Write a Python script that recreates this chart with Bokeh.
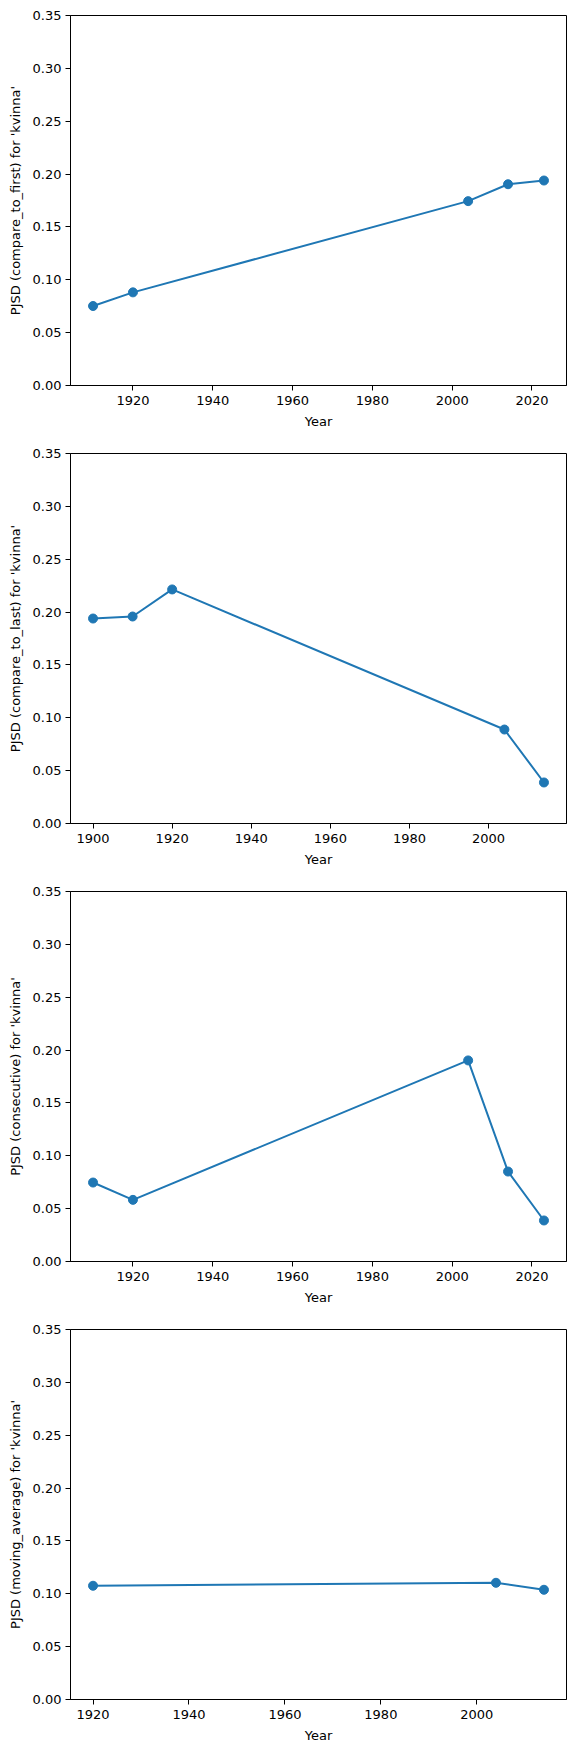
from bokeh.plotting import figure
from bokeh.layouts import column
from bokeh.models import FixedTicker, NumeralTickFormatter, Range1d
from bokeh.embed import file_html
from bokeh.resources import INLINE

# ---- data ----
years_first = [1910, 1920, 2004, 2014, 2023]
pjsd_first = [0.0752, 0.0881, 0.1744, 0.1904, 0.1939]

years_last = [1900, 1910, 1920, 2004, 2014]
pjsd_last = [0.1939, 0.1958, 0.2214, 0.0889, 0.0388]

years_consec = [1910, 1920, 2004, 2014, 2023]
pjsd_consec = [0.0747, 0.0583, 0.1902, 0.0851, 0.0388]

years_mavg = [1920, 2004, 2014]
pjsd_mavg = [0.1076, 0.1104, 0.1038]

methods = ["compare_to_first", "compare_to_last", "consecutive", "moving_average"]
word = "kvinna"
y_ticks = [0.0, 0.05, 0.10, 0.15, 0.20, 0.25, 0.30, 0.35]

series = [
    (years_first, pjsd_first, [1920, 1940, 1960, 1980, 2000, 2020]),
    (years_last, pjsd_last, [1900, 1920, 1940, 1960, 1980, 2000]),
    (years_consec, pjsd_consec, [1920, 1940, 1960, 1980, 2000, 2020]),
    (years_mavg, pjsd_mavg, [1920, 1940, 1960, 1980, 2000]),
]

BLUE = "#1f77b4"
FONT = "DejaVu Sans"

figs = []
for i, ((xs, ys, xt), method) in enumerate(zip(series, methods)):
    lo, hi = min(xs), max(xs)
    pad = (hi - lo) * 0.05
    p = figure(
        width=576,
        height=438,
        x_range=Range1d(lo - pad, hi + pad),
        y_range=Range1d(0, 0.35),
        output_backend="svg",
        toolbar_location=None,
        title=None,
        min_border_left=70,
        min_border_right=10,
        min_border_top=15,
        min_border_bottom=53,
    )
    p.line(xs, ys, line_color=BLUE, line_width=2)
    p.scatter(xs, ys, size=9, fill_color=BLUE, line_color=BLUE)

    p.xgrid.visible = False
    p.ygrid.visible = False
    p.outline_line_color = "black"
    p.outline_line_width = 1
    p.outline_line_alpha = 1

    p.xaxis.ticker = FixedTicker(ticks=xt)
    p.yaxis.ticker = FixedTicker(ticks=y_ticks)
    p.yaxis.formatter = NumeralTickFormatter(format="0.00")
    p.xaxis.axis_label = "Year"
    p.yaxis.axis_label = f"PJSD ({method}) for '{word}'"

    for ax in (p.xaxis, p.yaxis):
        ax.axis_line_color = "black"
        ax.axis_line_width = 1
        ax.major_tick_line_color = "black"
        ax.major_tick_line_width = 1
        ax.major_tick_in = 0
        ax.major_tick_out = 5
        ax.minor_tick_line_color = None
        ax.major_label_text_font = FONT
        ax.major_label_text_font_size = "13px"
        ax.major_label_text_color = "black"
        ax.axis_label_text_font = FONT
        ax.axis_label_text_font_size = "13px"
        ax.axis_label_text_font_style = "normal"
        ax.axis_label_text_color = "black"
        ax.major_label_standoff = 4
    p.xaxis.major_label_standoff = 5
    p.yaxis.axis_label_standoff = 7
    p.xaxis.axis_label_standoff = 6
    figs.append(p)

layout = column(*figs, spacing=0)
open("out.html", "w").write(file_html(layout, INLINE))
